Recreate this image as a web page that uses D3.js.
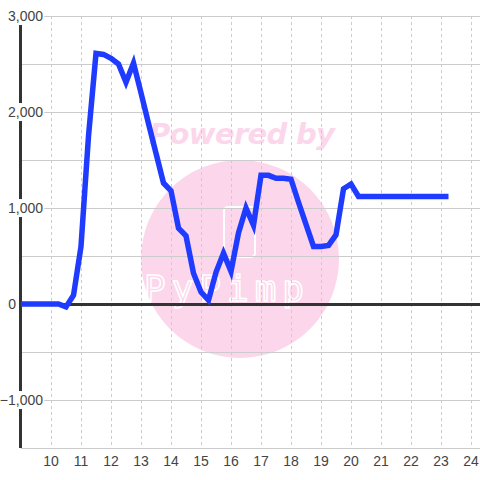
<!DOCTYPE html>
<html>
<head>
<meta charset="utf-8">
<script src="https://cdn.jsdelivr.net/npm/d3@7"></script>
<style>
  html, body { margin: 0; padding: 0; background: #ffffff; }
  svg { display: block; }
</style>
</head>
<body>
<svg id="chart" width="480" height="480"></svg>
<script>
// ---- data ----
const hours = [9, 9.25, 9.5, 9.75, 10, 10.25, 10.5, 10.75, 11, 11.25, 11.5, 11.75,
  12, 12.25, 12.5, 12.75, 13, 13.25, 13.5, 13.75, 14, 14.25, 14.5, 14.75,
  15, 15.25, 15.5, 15.75, 16, 16.25, 16.5, 16.75, 17, 17.25, 17.5, 17.75,
  18, 18.25, 18.5, 18.75, 19, 19.25, 19.5, 19.75, 20, 20.25, 20.5, 20.75,
  21, 21.25, 21.5, 21.75, 22, 22.25, 22.5, 22.75, 23, 23.25];
const values = [0, 0, 0, 0, 0, 0, -30, 90, 600, 1750, 2610, 2600,
  2560, 2500, 2310, 2510, 2200, 1880, 1570, 1260, 1180, 790, 710, 320,
  125, 40, 330, 530, 340, 740, 1000, 820, 1340, 1340, 1310, 1310,
  1300, 1060, 830, 600, 600, 610, 720, 1200, 1250, 1120, 1120, 1120,
  1120, 1120, 1120, 1120, 1120, 1120, 1120, 1120, 1120, 1120];
const xTicks = [10, 11, 12, 13, 14, 15, 16, 17, 18, 19, 20, 21, 22, 23, 24];
const yTicks = [-1000, 0, 1000, 2000, 3000];
const yGrid = [-1500, -1000, -500, 0, 500, 1000, 1500, 2000, 2500, 3000];

const svg = d3.select("#chart");
const x = d3.scaleLinear().domain([9, 24.3]).range([21, 480]);
const y = d3.scaleLinear().domain([-1500, 3000]).range([448, 16]);
const font = "'Liberation Sans', Arial, sans-serif";

// watermark
const wm = svg.append("g");
wm.append("circle").attr("cx", 240).attr("cy", 259).attr("r", 99).attr("fill", "#fcd7ec");
wm.append("text").attr("x", 242).attr("y", 144).attr("text-anchor", "middle")
  .attr("font-family", "'DejaVu Sans', sans-serif").attr("font-weight", "bold")
  .attr("font-style", "italic").attr("font-size", 29).attr("fill", "#fcd7ec")
  .attr("textLength", 186).text("Powered by");
wm.append("rect").attr("x", 224).attr("y", 207).attr("width", 31).attr("height", 50)
  .attr("rx", 4).attr("fill", "none").attr("stroke", "#ffffff").attr("stroke-width", 2);
wm.append("text").attr("x", 224).attr("y", 301).attr("text-anchor", "middle")
  .attr("font-family", "'DejaVu Sans Mono', monospace").attr("font-size", 36)
  .attr("fill", "none").attr("stroke", "#ffffff").attr("stroke-width", 1.5)
  .attr("textLength", 160).text("PyPimp");

// grid
svg.append("g").attr("shape-rendering", "crispEdges")
  .selectAll("line").data(yGrid).join("line")
  .attr("x1", 21).attr("x2", 480).attr("y1", d => y(d) + 0.5).attr("y2", d => y(d) + 0.5)
  .attr("stroke", "#cccccc").attr("stroke-width", 1);
svg.append("g").attr("shape-rendering", "crispEdges")
  .selectAll("line").data(xTicks).join("line")
  .attr("x1", d => x(d) + 0.5).attr("x2", d => x(d) + 0.5).attr("y1", 16).attr("y2", 448)
  .attr("stroke", "#cccccc").attr("stroke-width", 1).attr("stroke-dasharray", "3,3");

// zero line and y axis
svg.append("line").attr("x1", 21).attr("x2", 480).attr("y1", y(0) + 0.5).attr("y2", y(0) + 0.5)
  .attr("stroke", "#333333").attr("stroke-width", 3).attr("shape-rendering", "crispEdges");
svg.append("line").attr("x1", 20.5).attr("x2", 20.5).attr("y1", 16).attr("y2", 448)
  .attr("stroke", "#333333").attr("stroke-width", 3).attr("shape-rendering", "crispEdges");

// y labels with background
const fmt = d3.format(",");
const yl = svg.append("g");
yTicks.forEach(v => {
  const isZero = v === 0;
  const t = yl.append("text").attr("x", isZero ? 16 : 43).attr("y", y(v)).attr("dy", "0.36em")
    .attr("text-anchor", "end").attr("font-family", font).attr("font-size", 14)
    .attr("fill", "#444444").text(fmt(v));
  const bb = t.node().getBBox();
  yl.insert("rect", () => t.node()).attr("x", bb.x - 2).attr("y", bb.y - 1)
    .attr("width", bb.width + 3).attr("height", bb.height + 2).attr("fill", "#ffffff");
});

// x labels
svg.append("g").selectAll("text").data(xTicks).join("text")
  .attr("x", d => x(d)).attr("y", 466).attr("text-anchor", "middle")
  .attr("font-family", font).attr("font-size", 14).attr("fill", "#444444")
  .text(d => d);

// series line
const line = d3.line().x((d, i) => x(hours[i])).y(d => y(d));
svg.append("path").datum(values).attr("d", line).attr("fill", "none")
  .attr("stroke", "#1f3bff").attr("stroke-width", 5.5).attr("stroke-linejoin", "miter");
</script>
</body>
</html>
